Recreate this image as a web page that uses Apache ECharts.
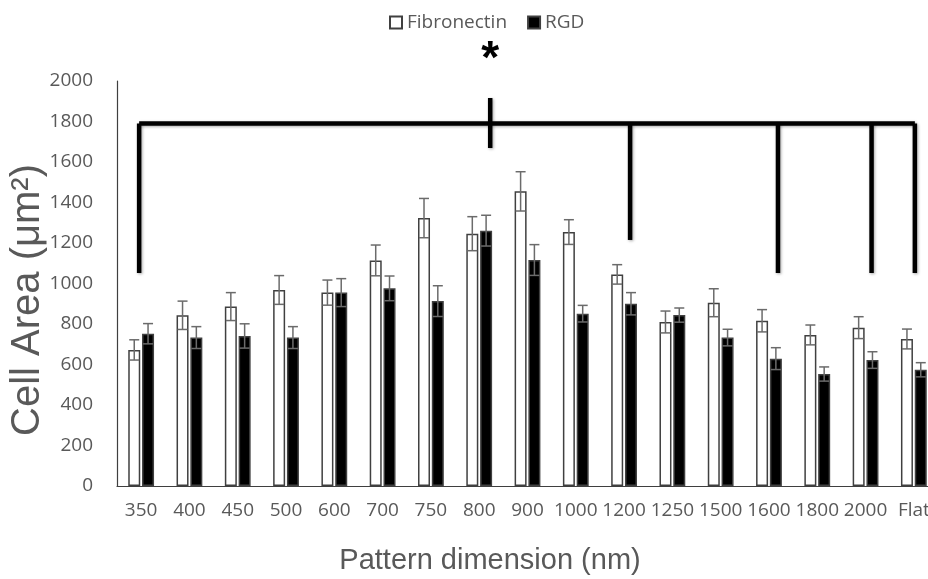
<!DOCTYPE html>
<html>
<head>
<meta charset="utf-8">
<script src="https://cdn.jsdelivr.net/npm/echarts@6/dist/echarts.min.js"></script>
<style>
html,body{margin:0;padding:0;background:#fff;}
#chart{width:928px;height:579px;}
</style>
</head>
<body>
<div id="chart"></div>
<script>
// ---- data ----
const categories = ['350','400','450','500','600','700','750','800','900','1000','1200','1250','1500','1600','1800','2000','Flat'];
const fibronectin = [672, 843, 886, 968, 955, 1114, 1323, 1246, 1455, 1254, 1045, 810, 905, 816, 746, 782, 726];
const fibronectinErr = [50, 70, 69, 71, 62, 76, 97, 84, 97, 61, 48, 54, 69, 55, 49, 54, 49];
const rgd = [752, 733, 741, 733, 955, 976, 913, 1261, 1116, 851, 900, 844, 733, 629, 553, 622, 574];
const rgdErr = [50, 54, 60, 54, 69, 61, 76, 76, 76, 41, 55, 35, 41, 54, 35, 41, 35];
const yTicks = [0, 200, 400, 600, 800, 1000, 1200, 1400, 1600, 1800, 2000];
// significance bracket
const bracketCategories = ['350','800','1200','1600','2000','Flat'];
const bracketTop = [1790, 1916, 1790, 1790, 1790, 1790];
const bracketBottom = [1052, 1669, 1215, 1052, 1052, 1052];
const bracketLevel = 1790;
const starCategory = '800';
const starValue = 2143;

// ---- styles ----
const bracketOffsets = [-2, 11, 6, 9, 6, 1];
const barOffset = 6.9;
const textColor = '#595959';
const tickFont = 'Open Sans';

const chart = echarts.init(document.getElementById('chart'));

function errData(vals, errs) {
  return vals.map((v, i) => [i, v - errs[i], v + errs[i]]);
}
function errRender(off) {
  return function (params, api) {
    const hi = api.coord([api.value(0), api.value(2)]);
    const lo = api.coord([api.value(0), api.value(1)]);
    const x = hi[0] + off;
    const style = { stroke: '#6b6b6b', lineWidth: 1.5 };
    return {
      type: 'group',
      children: [
        { type: 'line', shape: { x1: x, y1: hi[1], x2: x, y2: lo[1] }, style },
        { type: 'line', shape: { x1: x - 5, y1: hi[1], x2: x + 5, y2: hi[1] }, style },
        { type: 'line', shape: { x1: x - 5, y1: lo[1], x2: x + 5, y2: lo[1] }, style }
      ]
    };
  };
}

const bracketData = bracketCategories.map((c, i) => [categories.indexOf(c), bracketTop[i], bracketBottom[i], i]);
const lineStyle = { stroke: '#000', lineWidth: 4.5, shadowBlur: 3, shadowColor: 'rgba(0,0,0,0.35)', shadowOffsetX: 1, shadowOffsetY: 1 };

const option = {
  animation: false,
  backgroundColor: '#fff',
  legend: {
    top: 8,
    left: 384,
    itemWidth: 12,
    itemHeight: 12,
    itemGap: 20,
    icon: 'rect',
    textStyle: { color: textColor, fontSize: 19, fontFamily: tickFont },
    data: ['Fibronectin', 'RGD']
  },
  grid: { left: 117, width: 821, top: 81, height: 405, containLabel: false, outerBoundsMode: 'none' },
  xAxis: {
    type: 'category',
    data: categories,
    axisLine: { lineStyle: { color: '#3f3f3f', width: 1.2 } },
    axisTick: { show: false },
    axisLabel: { interval: 0, color: textColor, fontSize: 19, fontFamily: tickFont, margin: 15 }
  },
  yAxis: {
    type: 'value',
    min: yTicks[0],
    max: yTicks[yTicks.length - 1],
    interval: yTicks[1] - yTicks[0],
    axisLine: { show: true, lineStyle: { color: '#3f3f3f', width: 1.2 } },
    axisTick: { show: false },
    splitLine: { show: false },
    axisLabel: { color: textColor, fontSize: 19, fontFamily: tickFont, margin: 24, formatter: v => String(v) }
  },
  graphic: [
    {
      type: 'text', x: 28, y: 300, rotation: Math.PI / 2,
      style: { text: 'Cell Area (μm²)', fill: textColor, fontSize: 40, fontFamily: 'Liberation Sans', align: 'center', verticalAlign: 'middle' }
    },
    {
      type: 'text', x: 490, y: 561,
      style: { text: 'Pattern dimension (nm)', fill: textColor, fontSize: 29, fontFamily: 'Liberation Sans', align: 'center', verticalAlign: 'middle' }
    }
  ],
  series: [
    {
      name: 'Fibronectin', type: 'bar', data: fibronectin,
      barWidth: 12, barGap: '15%',
      itemStyle: { color: '#ffffff', borderColor: '#404040', borderWidth: 1.5 }
    },
    {
      name: 'RGD', type: 'bar', data: rgd,
      barWidth: 12, barGap: '15%',
      itemStyle: { color: '#000000', borderColor: '#404040', borderWidth: 1.5 }
    },
    {
      type: 'custom', name: 'fibErr', data: errData(fibronectin, fibronectinErr),
      renderItem: errRender(-barOffset), encode: { x: 0, y: [1, 2] }, z: 5, silent: true
    },
    {
      type: 'custom', name: 'rgdErr', data: errData(rgd, rgdErr),
      renderItem: errRender(barOffset), encode: { x: 0, y: [1, 2] }, z: 5, silent: true
    },
    {
      type: 'custom', name: 'bracket', data: bracketData, clip: false, z: 6, silent: true,
      encode: { x: 0, y: [1, 2] },
      renderItem: function (params, api) {
        const idx = api.value(3);
        const off = bracketOffsets[idx];
        const top = api.coord([api.value(0), api.value(1)]);
        const bot = api.coord([api.value(0), api.value(2)]);
        const x = top[0] + off;
        const children = [
          { type: 'line', shape: { x1: x, y1: top[1], x2: x, y2: bot[1] }, style: lineStyle }
        ];
        if (idx === 0) {
          const first = api.coord([categories.indexOf(bracketCategories[0]), bracketLevel]);
          const lastI = bracketCategories.length - 1;
          const last = api.coord([categories.indexOf(bracketCategories[lastI]), bracketLevel]);
          children.push({ type: 'line', shape: { x1: first[0] + bracketOffsets[0], y1: first[1], x2: last[0] + bracketOffsets[lastI], y2: last[1] }, style: lineStyle });
          const s = api.coord([categories.indexOf(starCategory), starValue]);
          children.push({ type: 'text', x: s[0] + bracketOffsets[1], y: s[1] + 8,
            style: { text: '*', fill: '#000', fontSize: 46, fontWeight: 'bold', fontFamily: 'Liberation Sans', align: 'center', verticalAlign: 'middle' } });
        }
        return { type: 'group', children };
      }
    }
  ]
};
chart.setOption(option);
</script>
</body>
</html>
